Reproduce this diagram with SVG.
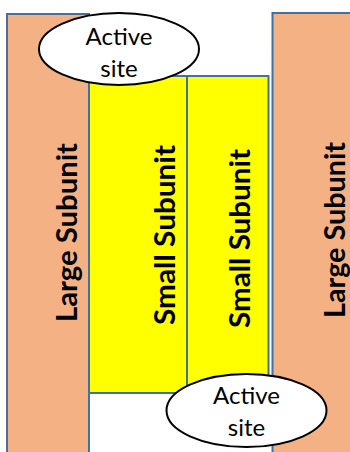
<svg xmlns="http://www.w3.org/2000/svg" width="350" height="452" viewBox="0 0 350 452">
  <style>
    .large { fill: #F4B183; stroke: #41719C; stroke-width: 2; }
    .small { fill: #FFFF00; stroke: #41719C; stroke-width: 2; }
    .site { fill: #FFFFFF; stroke: #000000; stroke-width: 2; }
    .vlabel { font-family: Lato, "Liberation Sans", sans-serif; font-weight: bold; font-size: 29px; fill: #000000; text-anchor: middle; }
    .slabel { font-family: Lato, "Liberation Sans", sans-serif; font-size: 24px; fill: #000000; text-anchor: middle; }
  </style>
  <rect width="350" height="452" fill="#FFFFFF"/>

  <g id="large-subunit-left">
    <rect class="large" x="7" y="14" width="82" height="450"/>
    <text class="vlabel" transform="translate(77,232.5) rotate(-90)" textLength="179" lengthAdjust="spacingAndGlyphs">Large Subunit</text>
  </g>

  <g id="large-subunit-right">
    <rect class="large" x="272.5" y="13" width="90" height="450"/>
    <text class="vlabel" transform="translate(345,230) rotate(-90)" textLength="176" lengthAdjust="spacingAndGlyphs">Large Subunit</text>
  </g>

  <g id="small-subunit-left">
    <rect class="small" x="89" y="76" width="98" height="317"/>
    <text class="vlabel" transform="translate(175,235) rotate(-90)" textLength="180" lengthAdjust="spacingAndGlyphs">Small Subunit</text>
  </g>

  <g id="small-subunit-right">
    <rect class="small" x="187" y="76" width="81.5" height="317"/>
    <text class="vlabel" transform="translate(250,238.5) rotate(-90)" textLength="179" lengthAdjust="spacingAndGlyphs">Small Subunit</text>
  </g>

  <g id="active-site-top">
    <ellipse class="site" cx="119" cy="49" rx="80" ry="36"/>
    <text class="slabel" x="119" y="45">Active</text>
    <text class="slabel" x="119" y="77">site</text>
  </g>

  <g id="active-site-bottom">
    <ellipse class="site" cx="246.5" cy="410.5" rx="80" ry="36.5"/>
    <text class="slabel" x="246.5" y="404">Active</text>
    <text class="slabel" x="246.5" y="436">site</text>
  </g>

  <g id="connectors"/>
</svg>
